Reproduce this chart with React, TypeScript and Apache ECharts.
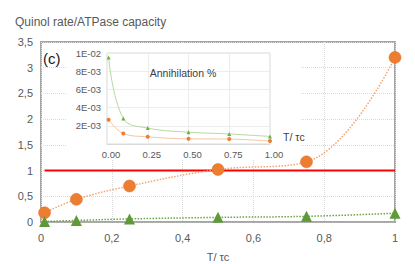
import React, { useEffect, useRef } from "react";
import * as echarts from "echarts";

// Main chart data
const mainX = [0.01, 0.1, 0.25, 0.5, 0.75, 1];
const orangeMain = [0.18, 0.44, 0.7, 1.02, 1.17, 3.2];
const greenMain = [0.01, 0.03, 0.06, 0.09, 0.11, 0.17];
const redLineX = [0.01, 1];
const redLineY = [1, 1];
const mainXLabels = ["0", "0,2", "0,4", "0,6", "0,8", "1"];
const mainYLabels = ["0", "0,5", "1", "1,5", "2", "2,5", "3", "3,5"];

// Inset data (Annihilation %)
const insetX = [0.01, 0.1, 0.25, 0.5, 0.75, 1];
const greenInset = [0.0095, 0.0028, 0.00175, 0.0013, 0.0011, 0.00083];
const orangeInset = [0.00267, 0.00116, 0.00079, 0.00057, 0.00054, 0.00032];
const insetXLabels = ["0.00", "0.25", "0.50", "0.75", "1.00"];
const insetYLabels = ["", "2E-03", "4E-03", "6E-03", "8E-03", "1E-02"];

const FONT = "'Liberation Sans', Arial, sans-serif";

const pairs = (xs: number[], ys: number[]) => xs.map((x, i) => [x, ys[i]]);

export default function App() {
  const ref = useRef<HTMLDivElement>(null);
  useEffect(() => {
    document.body.style.margin = "0";
    if (!ref.current) return;
    const chart = echarts.init(ref.current, null, { renderer: "svg" });
    chart.setOption({
      animation: false,
      backgroundColor: "#ffffff",
      textStyle: { fontFamily: FONT },
      grid: [
        {
          left: 41,
          right: 20,
          top: 42,
          bottom: 42,
          show: true,
          borderColor: "#a6a6a6",
          borderWidth: 2,
          backgroundColor: "transparent",
        },
        {
          left: 107,
          right: 145,
          top: 53,
          bottom: 120,
          show: true,
          z: 2,
          borderColor: "#d9d9d9",
          borderWidth: 1,
          backgroundColor: "#ffffff",
        },
      ],
      xAxis: [
        {
          type: "value",
          gridIndex: 0,
          min: 0,
          max: 1,
          interval: 0.2,
          axisLine: { show: true, lineStyle: { color: "#a6a6a6", width: 1.5 } },
          axisTick: { show: false },
          splitLine: { show: true, lineStyle: { color: "#d9d9d9", type: "dotted" } },
          axisLabel: {
            color: "#595959",
            fontSize: 11,
            fontFamily: FONT,
            margin: 10,
            formatter: (v: number) => mainXLabels[Math.round(v / 0.2)] ?? "",
          },
        },
        {
          type: "value",
          gridIndex: 1,
          min: 0,
          max: 1,
          interval: 0.25,
          z: 3,
          axisLine: { show: true, lineStyle: { color: "#d9d9d9", width: 1 } },
          axisTick: { show: false },
          splitLine: { show: true, lineStyle: { color: "#ececec", width: 1 } },
          axisLabel: {
            color: "#595959",
            fontSize: 9.5,
            fontFamily: FONT,
            margin: 5,
            padding: [0, 0, 0, 8],
            formatter: (v: number) => insetXLabels[Math.round(v / 0.25)] ?? "",
          },
        },
      ],
      yAxis: [
        {
          type: "value",
          gridIndex: 0,
          min: 0,
          max: 3.5,
          interval: 0.5,
          axisLine: { show: false },
          axisTick: { show: false },
          splitLine: { show: true, lineStyle: { color: "#d9d9d9", type: "dotted" } },
          axisLabel: {
            color: "#595959",
            fontSize: 11,
            fontFamily: FONT,
            margin: 8,
            formatter: (v: number) => mainYLabels[Math.round(v / 0.5)] ?? "",
          },
        },
        {
          type: "value",
          gridIndex: 1,
          min: 0,
          max: 0.01,
          interval: 0.002,
          z: 3,
          axisLine: { show: false },
          axisTick: { show: false },
          splitLine: { show: true, lineStyle: { color: "#ececec", width: 1 } },
          axisLabel: {
            color: "#595959",
            fontSize: 9.5,
            fontFamily: FONT,
            margin: 6,
            formatter: (v: number) => insetYLabels[Math.round(v / 0.002)] ?? "",
          },
        },
      ],
      graphic: [
        {
          type: "rect",
          z: 1,
          silent: true,
          shape: { x: 66, y: 44, width: 234, height: 116 },
          style: { fill: "#ffffff" },
        },
        {
          type: "text",
          z: 5,
          style: {
            text: "Quinol rate/ATPase capacity",
            x: 15,
            y: 22,
            font: `12px ${FONT}`,
            fill: "#595959",
            verticalAlign: "middle",
          },
        },
        {
          type: "text",
          z: 5,
          style: {
            text: "(c)",
            x: 43,
            y: 58,
            font: `15px ${FONT}`,
            fill: "#1a1a1a",
            verticalAlign: "middle",
          },
        },
        {
          type: "text",
          z: 5,
          style: {
            text: "Annihilation %",
            x: 183,
            y: 73,
            font: `10.5px ${FONT}`,
            fill: "#404040",
            align: "center",
            verticalAlign: "middle",
          },
        },
        {
          type: "text",
          z: 5,
          style: {
            text: "T/ τc",
            x: 283,
            y: 137,
            font: `10.5px ${FONT}`,
            fill: "#404040",
            verticalAlign: "middle",
          },
        },
        {
          type: "text",
          z: 5,
          style: {
            text: "T/ τc",
            x: 218,
            y: 257,
            font: `11px ${FONT}`,
            fill: "#595959",
            align: "center",
            verticalAlign: "middle",
          },
        },
      ],
      series: [
        {
          name: "ref",
          type: "line",
          xAxisIndex: 0,
          yAxisIndex: 0,
          data: pairs(redLineX, redLineY),
          symbol: "none",
          lineStyle: { color: "#ff0000", width: 2 },
          z: 2,
        },
        {
          name: "orange",
          type: "line",
          xAxisIndex: 0,
          yAxisIndex: 0,
          data: pairs(mainX, orangeMain),
          smooth: 0.4,
          symbol: "circle",
          symbolSize: 12,
          itemStyle: { color: "#ED7D31", borderColor: "#e2702a", borderWidth: 0.5 },
          lineStyle: { color: "#F4A46E", width: 1.5, type: "dotted" },
          z: 3,
        },
        {
          name: "green",
          type: "line",
          xAxisIndex: 0,
          yAxisIndex: 0,
          data: pairs(mainX, greenMain),
          smooth: 0.4,
          symbol: "triangle",
          symbolSize: 11,
          itemStyle: { color: "#5E9A38" },
          lineStyle: { color: "#6AA444", width: 1.5, type: "dotted" },
          z: 3,
        },
        {
          name: "greenInset",
          type: "line",
          xAxisIndex: 1,
          yAxisIndex: 1,
          data: pairs(insetX, greenInset),
          smooth: 0.4,
          symbol: "triangle",
          symbolSize: 4,
          itemStyle: { color: "#70AD47" },
          lineStyle: { color: "#B7D9A0", width: 1 },
          z: 4,
        },
        {
          name: "orangeInset",
          type: "line",
          xAxisIndex: 1,
          yAxisIndex: 1,
          data: pairs(insetX, orangeInset),
          smooth: 0.4,
          symbol: "circle",
          symbolSize: 4,
          itemStyle: { color: "#ED7D31" },
          lineStyle: { color: "#F8C4A0", width: 1 },
          z: 4,
        },
      ],
    });
    return () => chart.dispose();
  }, []);
  return <div ref={ref} style={{ width: 415, height: 264 }} />;
}
